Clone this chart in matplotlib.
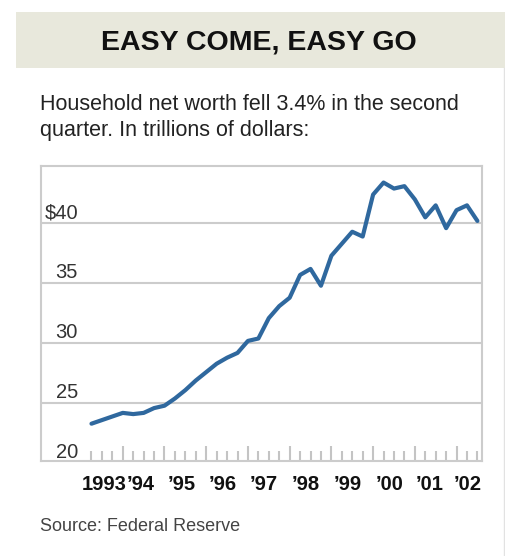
import matplotlib
matplotlib.use("Agg")
from matplotlib import pyplot as plt
from matplotlib.transforms import blended_transform_factory
from matplotlib.ticker import FixedLocator
import numpy as np

plt.rcParams['font.family'] = ['Liberation Sans', 'DejaVu Sans']

# household net worth, trillions of dollars, quarterly 1993 Q1 .. 2002 Q2
net_worth = [23.3, 23.6, 23.9, 24.2, 24.1, 24.2, 24.6, 24.8,
             25.4, 26.1, 26.9, 27.6, 28.3, 28.8, 29.2, 30.2,
             30.4, 32.1, 33.1, 33.8, 35.7, 36.2, 34.8, 37.3,
             38.3, 39.3, 38.9, 42.4, 43.4, 42.9, 43.1, 42.0,
             40.5, 41.5, 39.6, 41.1, 41.5, 40.2]
first_quarter = 1993.25
quarters = first_quarter + 0.25 * np.arange(len(net_worth))

year_labels = ["1993", "\u201994", "\u201995", "\u201996", "\u201997",
               "\u201998", "\u201999", "\u201900", "\u201901", "\u201902"]
year_label_pos = [1993.55, 1994.44, 1995.41, 1996.39, 1997.38,
                  1998.39, 1999.40, 2000.40, 2001.36, 2002.27]
y_values = [20, 25, 30, 35, 40]
y_labels = ["20", "25", "30", "35", "$40"]

W, H = 506, 556
fig = plt.figure(figsize=(W / 100, H / 100), dpi=100)
fig.patch.set_facecolor("white")

# header band
fig.patches.append(plt.Rectangle((16 / W, 1 - 68 / H), 1 - 16 / W, 56 / H,
                                 transform=fig.transFigure, facecolor="#e8e8dc",
                                 edgecolor="none", zorder=0))
# thin right border of the panel
fig.lines.append(plt.Line2D([504 / W, 504 / W], [0, 1 - 68 / H],
                            transform=fig.transFigure, color="#e2e2e2", lw=1))

fig.text(259 / W, 1 - 50 / H, "EASY COME, EASY GO", ha="center", va="baseline",
         fontsize=20.5, fontweight="bold", color="#111111")
fig.text(40 / W, 1 - 110 / H, "Household net worth fell 3.4% in the second",
         ha="left", va="baseline", fontsize=15.5, color="#222222")
fig.text(40 / W, 1 - 136 / H, "quarter. In trillions of dollars:",
         ha="left", va="baseline", fontsize=15.5, color="#222222")
fig.text(40 / W, 1 - 531 / H, "Source: Federal Reserve",
         ha="left", va="baseline", fontsize=13, color="#444444")

ax = fig.add_axes([41 / W, 95 / H, 441 / W, 295 / H])
ax.plot(quarters, net_worth, color="#2f689e", lw=3.0,
        solid_joinstyle="round", solid_capstyle="round", zorder=3)

ax.set_xlim(1992.04, 2002.61)
ax.set_ylim(20.19, 44.78)

for s in ax.spines.values():
    s.set_color("#cccccc")
    s.set_linewidth(1.5)

# gridlines
ax.set_yticks(y_values[1:])
ax.yaxis.grid(True, color="#cccccc", lw=1.5)
ax.tick_params(axis="y", length=0, labelleft=False)

# year / quarter ticks
ax.xaxis.set_major_locator(FixedLocator(np.arange(1994, 2003)))
ax.xaxis.set_minor_locator(FixedLocator(np.arange(first_quarter, 2002.51, 0.25)))
ax.tick_params(axis="x", which="major", direction="in", length=11, width=1.5,
               color="#c4c4c4", labelbottom=False)
ax.tick_params(axis="x", which="minor", direction="in", length=7, width=1.5,
               color="#c4c4c4")

# y labels sit inside the box, just above each gridline
ytrans = blended_transform_factory(ax.transAxes, ax.transData)
for v, lab in zip(y_values, y_labels):
    ax.annotate(lab, xy=(37 / 441, v), xycoords=ytrans, xytext=(0, 3.6),
                textcoords="offset points", ha="right", va="baseline",
                fontsize=14.5, color="#333333")

xtrans = blended_transform_factory(ax.transData, ax.transAxes)
for x, lab in zip(year_label_pos, year_labels):
    ax.text(x, -29 / 295, lab, transform=xtrans, ha="center", va="baseline",
            fontsize=14.5, fontweight="bold", color="#111111")

fig.savefig("out.png", dpi=100)
